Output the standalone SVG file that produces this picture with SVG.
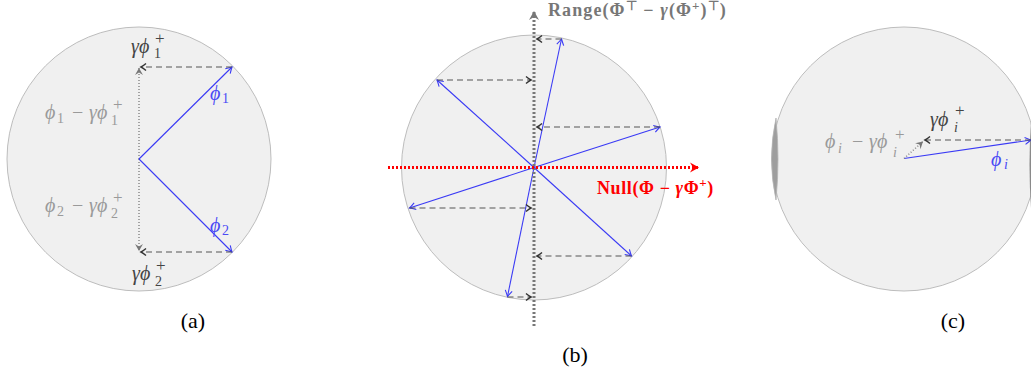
<svg xmlns="http://www.w3.org/2000/svg" width="1031" height="370" viewBox="0 0 1031 370">
<style>
.disk{fill:#f0f0f0;stroke:#bdbdbd;stroke-width:1}
.vec{stroke:#3a3af5;stroke-width:1.1;fill:none;marker-end:url(#mBlue)}
.proj{stroke:#555;stroke-width:1.2;fill:none;stroke-dasharray:6,4;marker-end:url(#mDark)}
.res{stroke:#888;stroke-width:1.5;fill:none;stroke-dasharray:1,2;marker-end:url(#mGray)}
.axis{stroke:#777;stroke-width:3;fill:none;stroke-dasharray:2,2}
.null{stroke:#f00;stroke-width:3;fill:none;stroke-dasharray:2,2;marker-end:url(#mRed)}
.m{font-family:"Liberation Serif","DejaVu Serif",serif;font-size:20px}
.i{font-style:italic}
.s{font-size:14px}
.p{font-size:17px}
.lg{fill:#9a9a9a}
.dk{fill:#444}
.bl{fill:#4a4af5}
.cap{font-family:"Liberation Serif",serif;font-size:22px;fill:#000;text-anchor:middle}
.bold{font-family:"Liberation Serif",serif;font-weight:bold}
</style>
<defs>
<marker id="mBlue" markerUnits="userSpaceOnUse" markerWidth="12" markerHeight="12" refX="0" refY="0" viewBox="-8 -6 10 12" orient="auto"><path d="M-6,-3.5 Q-2,-1 0,0 Q-2,1 -6,3.5" fill="none" stroke="#3a3af5" stroke-width="1.1"/></marker>
<marker id="mDark" markerUnits="userSpaceOnUse" markerWidth="12" markerHeight="12" refX="0" refY="0" viewBox="-8 -6 10 12" orient="auto"><path d="M-5,-3.5 Q-2,-1 0,0 Q-2,1 -5,3.5" fill="none" stroke="#333" stroke-width="1.4"/></marker>
<marker id="mGray" markerUnits="userSpaceOnUse" markerWidth="12" markerHeight="12" refX="0" refY="0" viewBox="-8 -6 10 12" orient="auto"><path d="M0,0 L-7,-4 L-4.5,0 L-7,4 z" fill="#777"/></marker>
<marker id="mAxis" markerUnits="userSpaceOnUse" markerWidth="14" markerHeight="14" refX="0" refY="0" viewBox="-10 -7 12 14" orient="auto"><path d="M0,0 L-9,-5 L-6,0 L-9,5 z" fill="#777"/></marker>
<marker id="mRed" markerUnits="userSpaceOnUse" markerWidth="14" markerHeight="14" refX="0" refY="0" viewBox="-10 -7 12 14" orient="auto"><path d="M0,0 L-9,-5 L-6,0 L-9,5 z" fill="#f00"/></marker>
</defs>

<!-- (a) -->
<g id="panel-a">
<circle class="disk" cx="139" cy="159" r="132"/>
<g id="a-connectors">
<line class="res" x1="139" y1="159" x2="139" y2="68"/>
<line class="res" x1="139" y1="159" x2="139" y2="251"/>
<line class="vec" x1="139" y1="159" x2="232" y2="67"/>
<line class="vec" x1="139" y1="159" x2="232" y2="252"/>
<line class="proj" x1="232" y1="67" x2="141" y2="67"/>
<line class="proj" x1="232" y1="252" x2="141" y2="252"/>
</g>
<g id="a-labels">
<text class="m dk"><tspan class="i" x="131" y="53">γϕ</tspan><tspan class="s" x="154" y="58">1</tspan><tspan class="p" x="155" y="44">+</tspan></text>
<text class="m dk"><tspan class="i" x="132" y="280">γϕ</tspan><tspan class="s" x="155" y="286">2</tspan><tspan class="p" x="156" y="271">+</tspan></text>
<text class="m bl"><tspan class="i" x="210" y="100">ϕ</tspan><tspan class="s" x="222" y="103">1</tspan></text>
<text class="m bl"><tspan class="i" x="210" y="232">ϕ</tspan><tspan class="s" x="222" y="235">2</tspan></text>
<text class="m lg"><tspan class="i" x="45" y="119">ϕ</tspan><tspan class="s" x="57" y="123">1</tspan><tspan x="72" y="119">−</tspan><tspan class="i" x="89" y="119">γϕ</tspan><tspan class="s" x="111" y="125">1</tspan><tspan class="p" x="113" y="110">+</tspan></text>
<text class="m lg"><tspan class="i" x="45" y="212">ϕ</tspan><tspan class="s" x="57" y="216">2</tspan><tspan x="72" y="212">−</tspan><tspan class="i" x="89" y="212">γϕ</tspan><tspan class="s" x="111" y="218">2</tspan><tspan class="p" x="113" y="203">+</tspan></text>
</g>
<text class="cap" x="193" y="328">(a)</text>
</g>

<!-- (b) -->
<g id="panel-b">
<circle class="disk" cx="534" cy="167.5" r="132.5"/>
<g id="b-connectors">
<line class="vec" x1="534" y1="167.5" x2="561.5" y2="39"/>
<line class="vec" x1="534" y1="167.5" x2="437" y2="80"/>
<line class="vec" x1="534" y1="167.5" x2="660" y2="127"/>
<line class="vec" x1="534" y1="167.5" x2="409.5" y2="208"/>
<line class="vec" x1="534" y1="167.5" x2="631.5" y2="256"/>
<line class="vec" x1="534" y1="167.5" x2="507.5" y2="296.5"/>
<line class="proj" x1="561.5" y1="39" x2="537" y2="39"/>
<line class="proj" x1="437" y1="80" x2="531" y2="80"/>
<line class="proj" x1="660" y1="127" x2="537" y2="127"/>
<line class="proj" x1="409.5" y1="208" x2="531" y2="208"/>
<line class="proj" x1="631.5" y1="256" x2="537" y2="256"/>
<line class="proj" x1="507.5" y1="297" x2="531" y2="297"/>
<line class="axis" x1="534" y1="326" x2="534" y2="11" style="marker-end:url(#mAxis)"/>
<line class="null" x1="388" y1="167.5" x2="699" y2="167.5"/>
</g>
<text class="bold" fill="#777" font-size="18" letter-spacing="1.1" x="548" y="16">Range(Φ<tspan dy="-6" font-size="13">⊤</tspan><tspan dy="6"> − </tspan><tspan font-style="italic">γ</tspan>(Φ<tspan dy="-6" font-size="13">+</tspan><tspan dy="6">)</tspan><tspan dy="-6" font-size="13">⊤</tspan><tspan dy="6">)</tspan></text>
<text class="bold" fill="#f00" font-size="18" letter-spacing="0.6" x="597" y="194">Null(Φ − <tspan font-style="italic">γ</tspan>Φ<tspan dy="-7" font-size="13">+</tspan><tspan dy="7">)</tspan></text>
<text class="cap" x="575" y="362">(b)</text>
</g>

<!-- (c) -->
<g id="panel-c">
<circle class="disk" cx="904" cy="159" r="132"/>
<path d="M776,118 Q767,159 776,200 Q780,159 776,118 z" fill="#9e9e9e" stroke="#b5b5b5" stroke-width="0.8"/>
<path d="M1031,122 Q1028,165 1031,208 L1033,208 L1033,122 z" fill="#8a8a8a"/>
<g id="c-connectors">
<line class="vec" x1="904" y1="158.5" x2="1031" y2="140"/>
<line class="proj" x1="1031" y1="140" x2="925" y2="140"/>
<line class="res" x1="904" y1="158.5" x2="923" y2="141.5"/>
</g>
<text class="m dk"><tspan class="i" x="930" y="126">γϕ</tspan><tspan class="s i" x="954" y="132">i</tspan><tspan class="p" x="955" y="116">+</tspan></text>
<text class="m lg"><tspan class="i" x="825" y="148">ϕ</tspan><tspan class="s i" x="838" y="153">i</tspan><tspan x="852" y="148">−</tspan><tspan class="i" x="869" y="148">γϕ</tspan><tspan class="s i" x="893" y="157">i</tspan><tspan class="p" x="895" y="140">+</tspan></text>
<text class="m bl"><tspan class="i" x="991" y="166">ϕ</tspan><tspan class="s i" x="1004" y="169">i</tspan></text>
<text class="cap" x="953" y="328">(c)</text>
</g>
</svg>
